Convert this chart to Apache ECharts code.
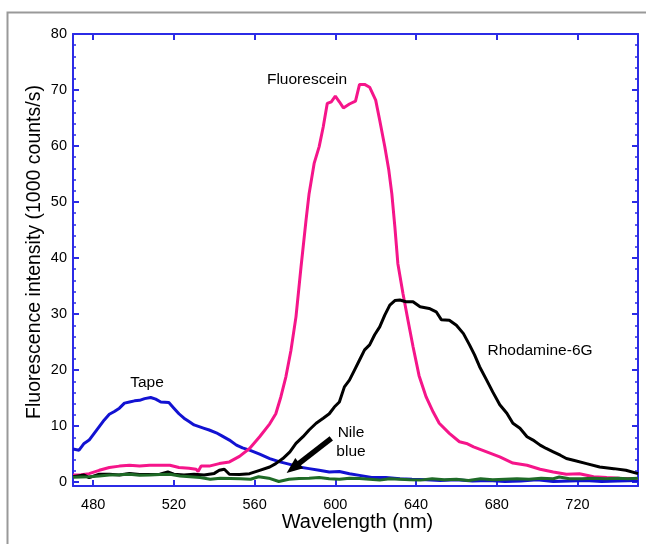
<!DOCTYPE html>
<html>
<head>
<meta charset="utf-8">
<title>Fluorescence spectra</title>
<script src="https://cdn.jsdelivr.net/npm/echarts@6/dist/echarts.min.js"></script>
<style>
    html, body { margin: 0; padding: 0; background: #fff; }
    .chart { width: 646px; height: 544px; }
</style>
</head>
<body>
<div class="chart"></div>
<script>
// 数据 (wavelength nm, intensity in 1000 counts/s)
var tape = [
    [470, 5.9], [473, 5.7], [475.5, 6.9], [478, 7.5], [480.5, 8.7], [483, 9.9], [485.5, 11.1], [488, 12.1],
    [490.5, 12.6], [493, 13.2], [495.5, 14.1], [498, 14.3], [500.5, 14.5], [503, 14.6], [505.5, 14.9],
    [508.5, 15.1], [511, 14.8], [513.5, 14.3], [517.5, 14.2], [520, 13.2], [522.5, 12.2], [525, 11.4],
    [527.5, 10.8], [530, 10.2], [532.5, 9.9], [535, 9.6], [537.5, 9.3], [541, 8.8], [544, 8.2], [547.5, 7.5],
    [551, 6.6], [554, 6.1], [557.5, 5.7], [562.5, 5.0], [567.5, 4.2], [572.5, 3.6], [577, 3.2], [582, 2.7],
    [587, 2.4], [592, 2.1], [597, 1.8], [602, 1.9], [607, 1.5], [612, 1.2], [618, 0.8], [625, 0.8],
    [632, 0.6], [638, 0.5], [645, 0.4], [652, 0.3], [660, 0.4], [668, 0.2], [676, 0.3], [684, 0.1],
    [692, 0.2], [700, 0.4], [708, 0.1], [716, 0.2], [724, 0.3], [732, 0.1], [740, 0.2], [750, 0.3]
];
var fluorescein = [
    [470, 1.25], [474, 1.3], [478, 1.5], [483, 2.1], [488, 2.6], [493, 2.85], [498, 3.0], [503, 2.85],
    [508, 3.0], [513, 3.0], [518, 3.0], [522.5, 2.6], [527.5, 2.45], [531, 2.3], [532, 1.9], [533.5, 2.85],
    [537.5, 2.85], [542.5, 3.3], [547.5, 3.6], [552.5, 4.6], [557.5, 6.0], [562.5, 8.1], [567.5, 10.4],
    [570.5, 12.2], [573, 15.2], [575.5, 18.8], [578, 23.5], [580.5, 29.5], [583, 38.4], [585.5, 46.8],
    [587, 51.5], [589.5, 56.9], [592, 59.9], [594, 63.4], [596, 67.6], [598, 67.9], [600, 68.9], [602, 67.9],
    [604, 66.8], [607, 67.5], [610, 68.0], [612, 71.0], [614.5, 71.0], [617, 70.5], [620, 68.2], [622, 64.6],
    [624.5, 59.9], [626.5, 55.7], [628, 51.5], [629.5, 45.6], [631, 39.0], [633.5, 33.7], [636, 28.9],
    [638.5, 24.2], [641.5, 19.0], [645, 15.2], [648.5, 12.5], [651.5, 10.5], [656.5, 8.7], [661.5, 7.2],
    [665, 6.9], [668.5, 6.3], [675, 5.4], [681.5, 4.5], [688, 3.4], [695, 3.0], [701.5, 2.3], [708, 1.8],
    [714.5, 1.4], [721, 1.5], [728, 0.95], [734.5, 0.8], [741, 0.7], [750, 0.65]
];
var rhodamine = [
    [470, 0.95], [475.5, 1.25], [478, 0.8], [483, 1.4], [488, 1.4], [493, 1.25], [498, 1.55], [503, 1.35],
    [508, 1.35], [513, 1.4], [517, 1.8], [520, 1.4], [525, 1.25], [530, 1.4], [535, 1.25], [540, 1.55],
    [542.5, 2.1], [545, 2.3], [547.5, 1.4], [552.5, 1.35], [557.5, 1.5], [562.5, 2.1], [567.5, 2.7],
    [570.5, 3.3], [574, 4.2], [577.5, 5.4], [580.5, 6.9], [584, 8.1], [587, 9.3], [590.5, 10.5], [594, 11.4],
    [597, 12.2], [599.5, 13.4], [602, 14.3], [604.5, 17.0], [607, 18.2], [609.5, 20.0], [612, 21.8],
    [614.5, 23.6], [617, 24.5], [619.5, 26.3], [622, 27.7], [624.5, 29.8], [627, 31.6], [629.5, 32.4],
    [632, 32.5], [635, 32.2], [638.5, 32.2], [642, 31.3], [646.5, 31.0], [650, 30.4], [652.5, 29.0],
    [656.5, 28.9], [660, 28.0], [663.5, 26.5], [666.5, 24.5], [669, 22.7], [671.5, 20.6], [675, 18.2],
    [678, 16.1], [681.5, 13.8], [685, 12.3], [688, 10.5], [691.5, 9.6], [695, 8.1], [698, 7.5], [701.5, 6.6],
    [704.5, 6.0], [708, 5.4], [711.5, 4.8], [714.5, 4.2], [718, 3.9], [724.5, 3.3], [731, 2.7], [738, 2.4],
    [744, 2.1], [750, 1.5]
];
var nileBlue = [
    [470, 0.85], [474, 0.9], [478, 0.95], [483, 1.1], [488, 1.25], [493, 1.3], [498, 1.4], [503, 1.2],
    [508, 1.25], [513, 1.35], [518, 1.4], [523, 1.1], [528, 0.95], [533, 0.8], [538, 0.5], [543, 0.7],
    [548, 0.65], [553, 0.6], [558, 0.5], [562, 0.95], [567, 0.7], [572, 0.1], [577, 0.5], [582, 0.65],
    [587, 0.7], [592, 0.8], [597, 0.6], [602, 0.5], [607, 0.7], [612, 0.65], [617, 0.5], [622, 0.35],
    [627, 0.6], [632, 0.5], [637, 0.4], [642, 0.35], [648, 0.6], [654, 0.4], [660, 0.5], [666, 0.3],
    [672, 0.6], [678, 0.4], [684, 0.5], [690, 0.6], [696, 0.5], [702, 0.7], [708, 0.6], [711, 0.9],
    [716, 0.6], [722, 0.6], [728, 0.7], [734, 0.6], [740, 0.7], [745, 0.6], [750, 0.7]
];
// arrow pointing at the Nile blue trace (tail, head)
var arrowTail = [598, 7.8];
var arrowHead = [579, 2.5];

var axisBlue = '#2b2be6';
var font = 'Liberation Sans, Arial, sans-serif';

var chart = echarts.init(document.querySelector('.chart'));

var xAxisBase = {
    type: 'value',
    min: 470,
    max: 750,
    minInterval: 40,
    maxInterval: 40,
    axisLine: { show: true, onZero: false, lineStyle: { color: axisBlue, width: 2 } },
    axisTick: { show: true, inside: true, length: 6, lineStyle: { color: axisBlue, width: 2 } },
    splitLine: { show: false }
};
var yAxisBase = {
    type: 'value',
    min: -0.7,
    max: 80,
    splitNumber: 8,
    minInterval: 10,
    maxInterval: 10,
    axisLine: { show: true, lineStyle: { color: axisBlue, width: 2 } },
    axisTick: { show: true, inside: true, length: 6, lineStyle: { color: axisBlue, width: 2 } },
    minorTick: { show: true, splitNumber: 5, length: 3, lineStyle: { color: axisBlue, width: 1.5 } },
    splitLine: { show: false }
};

option = {
    backgroundColor: '#fff',
    animation: false,
    grid: { left: 73, right: 8, top: 34, bottom: 58, containLabel: false },
    xAxis: [
        Object.assign({}, xAxisBase, {
            position: 'bottom',
            name: 'Wavelength (nm)',
            nameLocation: 'middle',
            nameGap: 26,
            nameMoveOverlap: false,
            nameTextStyle: { color: '#000', fontSize: 20, fontFamily: font, padding: [0, 0, 0, 4] },
            axisLabel: {
                color: '#000', fontSize: 14.5, fontFamily: font, margin: 11,
                showMinLabel: false, showMaxLabel: false
            }
        }),
        Object.assign({}, xAxisBase, { position: 'top', axisLabel: { show: false } })
    ],
    yAxis: [
        Object.assign({}, yAxisBase, {
            position: 'left',
            name: 'Fluorescence intensity (1000 counts/s)',
            nameLocation: 'middle',
            nameGap: 28,
            nameMoveOverlap: false,
            nameTextStyle: { color: '#000', fontSize: 19.5, fontFamily: font, padding: [0, 0, 0, 16] },
            axisLabel: {
                color: '#000', fontSize: 14.5, fontFamily: font, margin: 6,
                showMinLabel: false
            }
        }),
        Object.assign({}, yAxisBase, { position: 'right', axisLabel: { show: false } })
    ],
    series: [
        {
            name: 'Tape', type: 'line', data: tape, symbol: 'none',
            lineStyle: { color: '#1212d2', width: 3 }, z: 2
        },
        {
            name: 'Fluorescein', type: 'line', data: fluorescein, symbol: 'none',
            lineStyle: { color: '#f5158a', width: 3 }, z: 3
        },
        {
            name: 'Rhodamine-6G', type: 'line', data: rhodamine, symbol: 'none',
            lineStyle: { color: '#000', width: 3 }, z: 4
        },
        {
            name: 'Nile blue', type: 'line', data: nileBlue, symbol: 'none',
            lineStyle: { color: '#1f6b27', width: 3 }, z: 5,
            markLine: {
                silent: true,
                symbol: ['none', 'triangle'],
                symbolSize: [13, 16],
                label: { show: false },
                lineStyle: { color: '#000', width: 5.5, type: 'solid' },
                data: [[{ coord: arrowTail }, { coord: arrowHead }]]
            }
        }
    ],
    graphic: [
        // figure frame
        {
            type: 'rect', left: 5, top: 10, silent: true,
            shape: { width: 700, height: 600 },
            style: { fill: 'none', stroke: '#999', lineWidth: 2 }
        },
        { type: 'text', x: 307, y: 80, style: { text: 'Fluorescein', font: '15.5px ' + font, fill: '#000', align: 'center', verticalAlign: 'middle' } },
        { type: 'text', x: 147, y: 383, style: { text: 'Tape', font: '15.5px ' + font, fill: '#000', align: 'center', verticalAlign: 'middle' } },
        { type: 'text', x: 540, y: 351, style: { text: 'Rhodamine-6G', font: '15.5px ' + font, fill: '#000', align: 'center', verticalAlign: 'middle' } },
        { type: 'text', x: 351, y: 433, style: { text: 'Nile', font: '15.5px ' + font, fill: '#000', align: 'center', verticalAlign: 'middle' } },
        { type: 'text', x: 351, y: 452, style: { text: 'blue', font: '15.5px ' + font, fill: '#000', align: 'center', verticalAlign: 'middle' } }
    ]
};

chart.setOption(option);
</script>
</body>
</html>
